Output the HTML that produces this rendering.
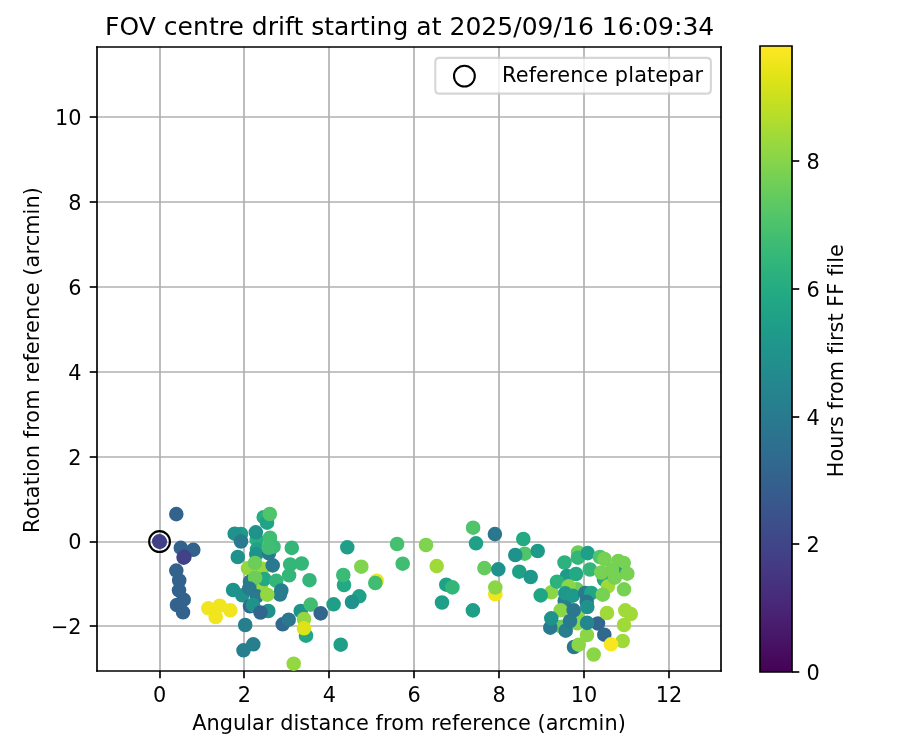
<!DOCTYPE html>
<html><head><meta charset="utf-8"><style>
html,body{margin:0;padding:0;background:#fff;width:900px;height:750px;overflow:hidden}
svg{display:block;will-change:transform}
svg text{font-family:"DejaVu Sans","Liberation Sans",sans-serif;font-variant-ligatures:none;font-feature-settings:"liga" 0,"clig" 0}
</style></head><body>
<svg width="900" height="750" viewBox="0 0 432 360" version="1.1">
 
 <defs>
  <style type="text/css">*{stroke-linejoin: round; stroke-linecap: butt}</style>
 </defs>
 <g id="figure_1">
  <g id="patch_1">
   <path d="M 0 360 
L 432 360 
L 432 0 
L 0 0 
z
" style="fill: #ffffff"/>
  </g>
  <g id="axes_1">
   <g id="patch_2">
    <path d="M 46.56 322.08 
L 346.08 322.08 
L 346.08 22.56 
L 46.56 22.56 
z
" style="fill: #ffffff"/>
   </g>
   <g id="matplotlib.axis_1">
    <g id="xtick_1">
     <g id="line2d_1">
      <path d="M 76.8000 322.08 
L 76.8000 22.56 
" clip-path="url(#pa88c862650)" style="fill: none; stroke: #b0b0b0; stroke-width: 0.8; stroke-linecap: square"/>
     </g>
     <g id="line2d_2">
      <defs>
       <path id="m1504cfccaf" d="M 0 0 
L 0 3.5 
" style="stroke: #000000; stroke-width: 0.8"/>
      </defs>
      <g>
       <use href="#m1504cfccaf" x="76.8000" y="322.08" style="stroke: #000000; stroke-width: 0.8"/>
      </g>
     </g>
     <g id="text_1">
      <text style="font-size: 10px; font-family: 'DejaVu Sans', 'Bitstream Vera Sans', 'Computer Modern Sans Serif', 'Lucida Grande', 'Verdana', 'Geneva', 'Lucid', 'Arial', 'Helvetica', 'Avant Garde', sans-serif; text-anchor: middle" x="76.5840" y="337.1584" transform="rotate(-0 76.5840 337.1584)">0</text>
     </g>
    </g>
    <g id="xtick_2">
     <g id="line2d_3">
      <path d="M 117.1200 322.08 
L 117.1200 22.56 
" clip-path="url(#pa88c862650)" style="fill: none; stroke: #b0b0b0; stroke-width: 0.8; stroke-linecap: square"/>
     </g>
     <g id="line2d_4">
      <g>
       <use href="#m1504cfccaf" x="117.1200" y="322.08" style="stroke: #000000; stroke-width: 0.8"/>
      </g>
     </g>
     <g id="text_2">
      <text style="font-size: 10px; font-family: 'DejaVu Sans', 'Bitstream Vera Sans', 'Computer Modern Sans Serif', 'Lucida Grande', 'Verdana', 'Geneva', 'Lucid', 'Arial', 'Helvetica', 'Avant Garde', sans-serif; text-anchor: middle" x="117.3360" y="337.1584" transform="rotate(-0 117.3360 337.1584)">2</text>
     </g>
    </g>
    <g id="xtick_3">
     <g id="line2d_5">
      <path d="M 157.9200 322.08 
L 157.9200 22.56 
" clip-path="url(#pa88c862650)" style="fill: none; stroke: #b0b0b0; stroke-width: 0.8; stroke-linecap: square"/>
     </g>
     <g id="line2d_6">
      <g>
       <use href="#m1504cfccaf" x="157.9200" y="322.08" style="stroke: #000000; stroke-width: 0.8"/>
      </g>
     </g>
     <g id="text_3">
      <text style="font-size: 10px; font-family: 'DejaVu Sans', 'Bitstream Vera Sans', 'Computer Modern Sans Serif', 'Lucida Grande', 'Verdana', 'Geneva', 'Lucid', 'Arial', 'Helvetica', 'Avant Garde', sans-serif; text-anchor: middle" x="158.0880" y="337.1584" transform="rotate(-0 158.0880 337.1584)">4</text>
     </g>
    </g>
    <g id="xtick_4">
     <g id="line2d_7">
      <path d="M 198.7200 322.08 
L 198.7200 22.56 
" clip-path="url(#pa88c862650)" style="fill: none; stroke: #b0b0b0; stroke-width: 0.8; stroke-linecap: square"/>
     </g>
     <g id="line2d_8">
      <g>
       <use href="#m1504cfccaf" x="198.7200" y="322.08" style="stroke: #000000; stroke-width: 0.8"/>
      </g>
     </g>
     <g id="text_4">
      <text style="font-size: 10px; font-family: 'DejaVu Sans', 'Bitstream Vera Sans', 'Computer Modern Sans Serif', 'Lucida Grande', 'Verdana', 'Geneva', 'Lucid', 'Arial', 'Helvetica', 'Avant Garde', sans-serif; text-anchor: middle" x="198.8400" y="337.1584" transform="rotate(-0 198.8400 337.1584)">6</text>
     </g>
    </g>
    <g id="xtick_5">
     <g id="line2d_9">
      <path d="M 239.5200 322.08 
L 239.5200 22.56 
" clip-path="url(#pa88c862650)" style="fill: none; stroke: #b0b0b0; stroke-width: 0.8; stroke-linecap: square"/>
     </g>
     <g id="line2d_10">
      <g>
       <use href="#m1504cfccaf" x="239.5200" y="322.08" style="stroke: #000000; stroke-width: 0.8"/>
      </g>
     </g>
     <g id="text_5">
      <text style="font-size: 10px; font-family: 'DejaVu Sans', 'Bitstream Vera Sans', 'Computer Modern Sans Serif', 'Lucida Grande', 'Verdana', 'Geneva', 'Lucid', 'Arial', 'Helvetica', 'Avant Garde', sans-serif; text-anchor: middle" x="239.5920" y="337.1584" transform="rotate(-0 239.5920 337.1584)">8</text>
     </g>
    </g>
    <g id="xtick_6">
     <g id="line2d_11">
      <path d="M 280.3200 322.08 
L 280.3200 22.56 
" clip-path="url(#pa88c862650)" style="fill: none; stroke: #b0b0b0; stroke-width: 0.8; stroke-linecap: square"/>
     </g>
     <g id="line2d_12">
      <g>
       <use href="#m1504cfccaf" x="280.3200" y="322.08" style="stroke: #000000; stroke-width: 0.8"/>
      </g>
     </g>
     <g id="text_6">
      <text style="font-size: 10px; font-family: 'DejaVu Sans', 'Bitstream Vera Sans', 'Computer Modern Sans Serif', 'Lucida Grande', 'Verdana', 'Geneva', 'Lucid', 'Arial', 'Helvetica', 'Avant Garde', sans-serif; text-anchor: middle" x="280.3440" y="337.1584" transform="rotate(-0 280.3440 337.1584)">10</text>
     </g>
    </g>
    <g id="xtick_7">
     <g id="line2d_13">
      <path d="M 321.1200 322.08 
L 321.1200 22.56 
" clip-path="url(#pa88c862650)" style="fill: none; stroke: #b0b0b0; stroke-width: 0.8; stroke-linecap: square"/>
     </g>
     <g id="line2d_14">
      <g>
       <use href="#m1504cfccaf" x="321.1200" y="322.08" style="stroke: #000000; stroke-width: 0.8"/>
      </g>
     </g>
     <g id="text_7">
      <text style="font-size: 10px; font-family: 'DejaVu Sans', 'Bitstream Vera Sans', 'Computer Modern Sans Serif', 'Lucida Grande', 'Verdana', 'Geneva', 'Lucid', 'Arial', 'Helvetica', 'Avant Garde', sans-serif; text-anchor: middle" x="321.0960" y="337.1584" transform="rotate(-0 321.0960 337.1584)">12</text>
     </g>
    </g>
    <g id="text_8">
     <text style="font-size: 10px; font-family: 'DejaVu Sans', 'Bitstream Vera Sans', 'Computer Modern Sans Serif', 'Lucida Grande', 'Verdana', 'Geneva', 'Lucid', 'Arial', 'Helvetica', 'Avant Garde', sans-serif; text-anchor: middle" x="196.3200" y="350.3566" transform="rotate(-0 196.3200 350.3566)" textLength="208.160" lengthAdjust="spacing">Angular distance from reference (arcmin)</text>
    </g>
   </g>
   <g id="matplotlib.axis_2">
    <g id="ytick_1">
     <g id="line2d_15">
      <path d="M 46.56 300.4800 
L 346.08 300.4800 
" clip-path="url(#pa88c862650)" style="fill: none; stroke: #b0b0b0; stroke-width: 0.8; stroke-linecap: square"/>
     </g>
     <g id="line2d_16">
      <defs>
       <path id="m5d545ce8f8" d="M 0 0 
L -3.5 0 
" style="stroke: #000000; stroke-width: 0.8"/>
      </defs>
      <g>
       <use href="#m5d545ce8f8" x="46.56" y="300.4800" style="stroke: #000000; stroke-width: 0.8"/>
      </g>
     </g>
     <g id="text_9">
      <text style="font-size: 10px; font-family: 'DejaVu Sans', 'Bitstream Vera Sans', 'Computer Modern Sans Serif', 'Lucida Grande', 'Verdana', 'Geneva', 'Lucid', 'Arial', 'Helvetica', 'Avant Garde', sans-serif; text-anchor: end" x="39.1760" y="304.4952" transform="rotate(-0 39.1760 304.4952)">−2</text>
     </g>
    </g>
    <g id="ytick_2">
     <g id="line2d_17">
      <path d="M 46.56 260.1600 
L 346.08 260.1600 
" clip-path="url(#pa88c862650)" style="fill: none; stroke: #b0b0b0; stroke-width: 0.8; stroke-linecap: square"/>
     </g>
     <g id="line2d_18">
      <g>
       <use href="#m5d545ce8f8" x="46.56" y="260.1600" style="stroke: #000000; stroke-width: 0.8"/>
      </g>
     </g>
     <g id="text_10">
      <text style="font-size: 10px; font-family: 'DejaVu Sans', 'Bitstream Vera Sans', 'Computer Modern Sans Serif', 'Lucida Grande', 'Verdana', 'Geneva', 'Lucid', 'Arial', 'Helvetica', 'Avant Garde', sans-serif; text-anchor: end" x="39.1760" y="263.7432" transform="rotate(-0 39.1760 263.7432)">0</text>
     </g>
    </g>
    <g id="ytick_3">
     <g id="line2d_19">
      <path d="M 46.56 219.3600 
L 346.08 219.3600 
" clip-path="url(#pa88c862650)" style="fill: none; stroke: #b0b0b0; stroke-width: 0.8; stroke-linecap: square"/>
     </g>
     <g id="line2d_20">
      <g>
       <use href="#m5d545ce8f8" x="46.56" y="219.3600" style="stroke: #000000; stroke-width: 0.8"/>
      </g>
     </g>
     <g id="text_11">
      <text style="font-size: 10px; font-family: 'DejaVu Sans', 'Bitstream Vera Sans', 'Computer Modern Sans Serif', 'Lucida Grande', 'Verdana', 'Geneva', 'Lucid', 'Arial', 'Helvetica', 'Avant Garde', sans-serif; text-anchor: end" x="39.1760" y="222.9912" transform="rotate(-0 39.1760 222.9912)">2</text>
     </g>
    </g>
    <g id="ytick_4">
     <g id="line2d_21">
      <path d="M 46.56 178.5600 
L 346.08 178.5600 
" clip-path="url(#pa88c862650)" style="fill: none; stroke: #b0b0b0; stroke-width: 0.8; stroke-linecap: square"/>
     </g>
     <g id="line2d_22">
      <g>
       <use href="#m5d545ce8f8" x="46.56" y="178.5600" style="stroke: #000000; stroke-width: 0.8"/>
      </g>
     </g>
     <g id="text_12">
      <text style="font-size: 10px; font-family: 'DejaVu Sans', 'Bitstream Vera Sans', 'Computer Modern Sans Serif', 'Lucida Grande', 'Verdana', 'Geneva', 'Lucid', 'Arial', 'Helvetica', 'Avant Garde', sans-serif; text-anchor: end" x="39.1760" y="182.2392" transform="rotate(-0 39.1760 182.2392)">4</text>
     </g>
    </g>
    <g id="ytick_5">
     <g id="line2d_23">
      <path d="M 46.56 137.7600 
L 346.08 137.7600 
" clip-path="url(#pa88c862650)" style="fill: none; stroke: #b0b0b0; stroke-width: 0.8; stroke-linecap: square"/>
     </g>
     <g id="line2d_24">
      <g>
       <use href="#m5d545ce8f8" x="46.56" y="137.7600" style="stroke: #000000; stroke-width: 0.8"/>
      </g>
     </g>
     <g id="text_13">
      <text style="font-size: 10px; font-family: 'DejaVu Sans', 'Bitstream Vera Sans', 'Computer Modern Sans Serif', 'Lucida Grande', 'Verdana', 'Geneva', 'Lucid', 'Arial', 'Helvetica', 'Avant Garde', sans-serif; text-anchor: end" x="39.1760" y="141.4872" transform="rotate(-0 39.1760 141.4872)">6</text>
     </g>
    </g>
    <g id="ytick_6">
     <g id="line2d_25">
      <path d="M 46.56 96.9600 
L 346.08 96.9600 
" clip-path="url(#pa88c862650)" style="fill: none; stroke: #b0b0b0; stroke-width: 0.8; stroke-linecap: square"/>
     </g>
     <g id="line2d_26">
      <g>
       <use href="#m5d545ce8f8" x="46.56" y="96.9600" style="stroke: #000000; stroke-width: 0.8"/>
      </g>
     </g>
     <g id="text_14">
      <text style="font-size: 10px; font-family: 'DejaVu Sans', 'Bitstream Vera Sans', 'Computer Modern Sans Serif', 'Lucida Grande', 'Verdana', 'Geneva', 'Lucid', 'Arial', 'Helvetica', 'Avant Garde', sans-serif; text-anchor: end" x="39.1760" y="100.7352" transform="rotate(-0 39.1760 100.7352)">8</text>
     </g>
    </g>
    <g id="ytick_7">
     <g id="line2d_27">
      <path d="M 46.56 56.1600 
L 346.08 56.1600 
" clip-path="url(#pa88c862650)" style="fill: none; stroke: #b0b0b0; stroke-width: 0.8; stroke-linecap: square"/>
     </g>
     <g id="line2d_28">
      <g>
       <use href="#m5d545ce8f8" x="46.56" y="56.1600" style="stroke: #000000; stroke-width: 0.8"/>
      </g>
     </g>
     <g id="text_15">
      <text style="font-size: 10px; font-family: 'DejaVu Sans', 'Bitstream Vera Sans', 'Computer Modern Sans Serif', 'Lucida Grande', 'Verdana', 'Geneva', 'Lucid', 'Arial', 'Helvetica', 'Avant Garde', sans-serif; text-anchor: end" x="39.1760" y="59.9832" transform="rotate(-0 39.1760 59.9832)">10</text>
     </g>
    </g>
    <g id="text_16">
     <text style="font-size: 10px; font-family: 'DejaVu Sans', 'Bitstream Vera Sans', 'Computer Modern Sans Serif', 'Lucida Grande', 'Verdana', 'Geneva', 'Lucid', 'Arial', 'Helvetica', 'Avant Garde', sans-serif; text-anchor: middle" x="18.7381" y="172.8000" transform="rotate(-90 18.7381 172.8000)" textLength="166.000" lengthAdjust="spacing">Rotation from reference (arcmin)</text>
    </g>
   </g>
   <g id="patch_3">
    <path d="M 46.56 322.08 
L 46.56 22.56 
" style="fill: none; stroke: #000000; stroke-width: 0.8; stroke-linejoin: miter; stroke-linecap: square"/>
   </g>
   <g id="patch_4">
    <path d="M 346.08 322.08 
L 346.08 22.56 
" style="fill: none; stroke: #000000; stroke-width: 0.8; stroke-linejoin: miter; stroke-linecap: square"/>
   </g>
   <g id="patch_5">
    <path d="M 46.56 322.08 
L 346.08 322.08 
" style="fill: none; stroke: #000000; stroke-width: 0.8; stroke-linejoin: miter; stroke-linecap: square"/>
   </g>
   <g id="patch_6">
    <path d="M 46.56 22.56 
L 346.08 22.56 
" style="fill: none; stroke: #000000; stroke-width: 0.8; stroke-linejoin: miter; stroke-linecap: square"/>
   </g>
   <g id="PathCollection_1">
    <defs>
     <path id="C0_0_623b9ded61" d="M 0 3 
C 0.795609 3 1.55874 2.683901 2.12132 2.12132 
C 2.683901 1.55874 3 0.795609 3 -0 
C 3 -0.795609 2.683901 -1.55874 2.12132 -2.12132 
C 1.55874 -2.683901 0.795609 -3 0 -3 
C -0.795609 -3 -1.55874 -2.683901 -2.12132 -2.12132 
C -2.683901 -1.55874 -3 -0.795609 -3 0 
C -3 0.795609 -2.683901 1.55874 -2.12132 2.12132 
C -1.55874 2.683901 -0.795609 3 0 3 
z
"/>
    </defs>
    <g clip-path="url(#pa88c862650)">
     <use href="#C0_0_623b9ded61" x="84.624" y="246.768" style="fill: #33638d; stroke: #33638d"/>
    </g>
    <g clip-path="url(#pa88c862650)">
     <use href="#C0_0_623b9ded61" x="86.784" y="262.944" style="fill: #33638d; stroke: #33638d"/>
    </g>
    <g clip-path="url(#pa88c862650)">
     <use href="#C0_0_623b9ded61" x="92.784" y="263.904" style="fill: #33638d; stroke: #33638d"/>
    </g>
    <g clip-path="url(#pa88c862650)">
     <use href="#C0_0_623b9ded61" x="88.128" y="267.648" style="fill: #414287; stroke: #414287"/>
    </g>
    <g clip-path="url(#pa88c862650)">
     <use href="#C0_0_623b9ded61" x="88.512" y="267.312" style="fill: #414287; stroke: #414287"/>
    </g>
    <g clip-path="url(#pa88c862650)">
     <use href="#C0_0_623b9ded61" x="76.464" y="259.824" style="fill: #424086; stroke: #424086"/>
    </g>
    <g clip-path="url(#pa88c862650)">
     <use href="#C0_0_623b9ded61" x="76.704" y="260.064" style="fill: #424086; stroke: #424086"/>
    </g>
    <g clip-path="url(#pa88c862650)">
     <use href="#C0_0_623b9ded61" x="84.624" y="273.888" style="fill: #33638d; stroke: #33638d"/>
    </g>
    <g clip-path="url(#pa88c862650)">
     <use href="#C0_0_623b9ded61" x="86.016" y="278.64" style="fill: #33638d; stroke: #33638d"/>
    </g>
    <g clip-path="url(#pa88c862650)">
     <use href="#C0_0_623b9ded61" x="85.92" y="283.344" style="fill: #33638d; stroke: #33638d"/>
    </g>
    <g clip-path="url(#pa88c862650)">
     <use href="#C0_0_623b9ded61" x="88.176" y="287.856" style="fill: #33638d; stroke: #33638d"/>
    </g>
    <g clip-path="url(#pa88c862650)">
     <use href="#C0_0_623b9ded61" x="84.96" y="290.4" style="fill: #33638d; stroke: #33638d"/>
    </g>
    <g clip-path="url(#pa88c862650)">
     <use href="#C0_0_623b9ded61" x="87.84" y="293.904" style="fill: #33638d; stroke: #33638d"/>
    </g>
    <g clip-path="url(#pa88c862650)">
     <use href="#C0_0_623b9ded61" x="99.984" y="291.984" style="fill: #f1e51d; stroke: #f1e51d"/>
    </g>
    <g clip-path="url(#pa88c862650)">
     <use href="#C0_0_623b9ded61" x="105.456" y="290.736" style="fill: #f1e51d; stroke: #f1e51d"/>
    </g>
    <g clip-path="url(#pa88c862650)">
     <use href="#C0_0_623b9ded61" x="110.544" y="292.944" style="fill: #f1e51d; stroke: #f1e51d"/>
    </g>
    <g clip-path="url(#pa88c862650)">
     <use href="#C0_0_623b9ded61" x="103.536" y="296.16" style="fill: #f1e51d; stroke: #f1e51d"/>
    </g>
    <g clip-path="url(#pa88c862650)">
     <use href="#C0_0_623b9ded61" x="115.68" y="256.32" style="fill: #1e9c89; stroke: #1e9c89"/>
    </g>
    <g clip-path="url(#pa88c862650)">
     <use href="#C0_0_623b9ded61" x="112.656" y="256.176" style="fill: #20928c; stroke: #20928c"/>
    </g>
    <g clip-path="url(#pa88c862650)">
     <use href="#C0_0_623b9ded61" x="115.68" y="259.92" style="fill: #297a8e; stroke: #297a8e"/>
    </g>
    <g clip-path="url(#pa88c862650)">
     <use href="#C0_0_623b9ded61" x="114.144" y="267.36" style="fill: #20928c; stroke: #20928c"/>
    </g>
    <g clip-path="url(#pa88c862650)">
     <use href="#C0_0_623b9ded61" x="111.888" y="283.2" style="fill: #20928c; stroke: #20928c"/>
    </g>
    <g clip-path="url(#pa88c862650)">
     <use href="#C0_0_623b9ded61" x="116.304" y="285.744" style="fill: #20928c; stroke: #20928c"/>
    </g>
    <g clip-path="url(#pa88c862650)">
     <use href="#C0_0_623b9ded61" x="117.696" y="300" style="fill: #277f8e; stroke: #277f8e"/>
    </g>
    <g clip-path="url(#pa88c862650)">
     <use href="#C0_0_623b9ded61" x="121.584" y="309.264" style="fill: #277f8e; stroke: #277f8e"/>
    </g>
    <g clip-path="url(#pa88c862650)">
     <use href="#C0_0_623b9ded61" x="116.88" y="312.144" style="fill: #277f8e; stroke: #277f8e"/>
    </g>
    <g clip-path="url(#pa88c862650)">
     <use href="#C0_0_623b9ded61" x="126.576" y="248.256" style="fill: #27ad81; stroke: #27ad81"/>
    </g>
    <g clip-path="url(#pa88c862650)">
     <use href="#C0_0_623b9ded61" x="128.16" y="250.896" style="fill: #20a386; stroke: #20a386"/>
    </g>
    <g clip-path="url(#pa88c862650)">
     <use href="#C0_0_623b9ded61" x="129.504" y="246.72" style="fill: #50c46a; stroke: #50c46a"/>
    </g>
    <g clip-path="url(#pa88c862650)">
     <use href="#C0_0_623b9ded61" x="123.216" y="259.056" style="fill: #29af7f; stroke: #29af7f"/>
    </g>
    <g clip-path="url(#pa88c862650)">
     <use href="#C0_0_623b9ded61" x="122.784" y="255.504" style="fill: #20928c; stroke: #20928c"/>
    </g>
    <g clip-path="url(#pa88c862650)">
     <use href="#C0_0_623b9ded61" x="123.36" y="263.664" style="fill: #20a386; stroke: #20a386"/>
    </g>
    <g clip-path="url(#pa88c862650)">
     <use href="#C0_0_623b9ded61" x="123.024" y="266.064" style="fill: #20928c; stroke: #20928c"/>
    </g>
    <g clip-path="url(#pa88c862650)">
     <use href="#C0_0_623b9ded61" x="129.072" y="265.584" style="fill: #297a8e; stroke: #297a8e"/>
    </g>
    <g clip-path="url(#pa88c862650)">
     <use href="#C0_0_623b9ded61" x="129.6" y="258.096" style="fill: #40bd72; stroke: #40bd72"/>
    </g>
    <g clip-path="url(#pa88c862650)">
     <use href="#C0_0_623b9ded61" x="131.28" y="262.416" style="fill: #3bbb75; stroke: #3bbb75"/>
    </g>
    <g clip-path="url(#pa88c862650)">
     <use href="#C0_0_623b9ded61" x="128.928" y="262.944" style="fill: #40bd72; stroke: #40bd72"/>
    </g>
    <g clip-path="url(#pa88c862650)">
     <use href="#C0_0_623b9ded61" x="140.064" y="262.992" style="fill: #34b679; stroke: #34b679"/>
    </g>
    <g clip-path="url(#pa88c862650)">
     <use href="#C0_0_623b9ded61" x="125.28" y="281.76" style="fill: #93d741; stroke: #93d741"/>
    </g>
    <g clip-path="url(#pa88c862650)">
     <use href="#C0_0_623b9ded61" x="125.904" y="272.976" style="fill: #98d83e; stroke: #98d83e"/>
    </g>
    <g clip-path="url(#pa88c862650)">
     <use href="#C0_0_623b9ded61" x="119.04" y="272.784" style="fill: #93d741; stroke: #93d741"/>
    </g>
    <g clip-path="url(#pa88c862650)">
     <use href="#C0_0_623b9ded61" x="122.4" y="270.24" style="fill: #6ccd5a; stroke: #6ccd5a"/>
    </g>
    <g clip-path="url(#pa88c862650)">
     <use href="#C0_0_623b9ded61" x="130.896" y="271.392" style="fill: #297a8e; stroke: #297a8e"/>
    </g>
    <g clip-path="url(#pa88c862650)">
     <use href="#C0_0_623b9ded61" x="144.816" y="270.48" style="fill: #34b679; stroke: #34b679"/>
    </g>
    <g clip-path="url(#pa88c862650)">
     <use href="#C0_0_623b9ded61" x="139.296" y="270.96" style="fill: #34b679; stroke: #34b679"/>
    </g>
    <g clip-path="url(#pa88c862650)">
     <use href="#C0_0_623b9ded61" x="120" y="279.216" style="fill: #297a8e; stroke: #297a8e"/>
    </g>
    <g clip-path="url(#pa88c862650)">
     <use href="#C0_0_623b9ded61" x="126.864" y="277.92" style="fill: #23a983; stroke: #23a983"/>
    </g>
    <g clip-path="url(#pa88c862650)">
     <use href="#C0_0_623b9ded61" x="122.448" y="277.296" style="fill: #6ccd5a; stroke: #6ccd5a"/>
    </g>
    <g clip-path="url(#pa88c862650)">
     <use href="#C0_0_623b9ded61" x="132.624" y="278.784" style="fill: #34b679; stroke: #34b679"/>
    </g>
    <g clip-path="url(#pa88c862650)">
     <use href="#C0_0_623b9ded61" x="138.768" y="276.144" style="fill: #34b679; stroke: #34b679"/>
    </g>
    <g clip-path="url(#pa88c862650)">
     <use href="#C0_0_623b9ded61" x="148.56" y="278.496" style="fill: #34b679; stroke: #34b679"/>
    </g>
    <g clip-path="url(#pa88c862650)">
     <use href="#C0_0_623b9ded61" x="119.664" y="282.48" style="fill: #297a8e; stroke: #297a8e"/>
    </g>
    <g clip-path="url(#pa88c862650)">
     <use href="#C0_0_623b9ded61" x="123.216" y="286.224" style="fill: #297a8e; stroke: #297a8e"/>
    </g>
    <g clip-path="url(#pa88c862650)">
     <use href="#C0_0_623b9ded61" x="134.4" y="285.36" style="fill: #287d8e; stroke: #287d8e"/>
    </g>
    <g clip-path="url(#pa88c862650)">
     <use href="#C0_0_623b9ded61" x="135.024" y="283.44" style="fill: #287d8e; stroke: #287d8e"/>
    </g>
    <g clip-path="url(#pa88c862650)">
     <use href="#C0_0_623b9ded61" x="128.304" y="285.456" style="fill: #93d741; stroke: #93d741"/>
    </g>
    <g clip-path="url(#pa88c862650)">
     <use href="#C0_0_623b9ded61" x="120" y="291.024" style="fill: #30698e; stroke: #30698e"/>
    </g>
    <g clip-path="url(#pa88c862650)">
     <use href="#C0_0_623b9ded61" x="121.44" y="290.4" style="fill: #20928c; stroke: #20928c"/>
    </g>
    <g clip-path="url(#pa88c862650)">
     <use href="#C0_0_623b9ded61" x="128.784" y="293.28" style="fill: #20928c; stroke: #20928c"/>
    </g>
    <g clip-path="url(#pa88c862650)">
     <use href="#C0_0_623b9ded61" x="125.04" y="294" style="fill: #31668e; stroke: #31668e"/>
    </g>
    <g clip-path="url(#pa88c862650)">
     <use href="#C0_0_623b9ded61" x="144.336" y="293.28" style="fill: #20928c; stroke: #20928c"/>
    </g>
    <g clip-path="url(#pa88c862650)">
     <use href="#C0_0_623b9ded61" x="149.136" y="290.208" style="fill: #40bd72; stroke: #40bd72"/>
    </g>
    <g clip-path="url(#pa88c862650)">
     <use href="#C0_0_623b9ded61" x="153.936" y="294.432" style="fill: #31668e; stroke: #31668e"/>
    </g>
    <g clip-path="url(#pa88c862650)">
     <use href="#C0_0_623b9ded61" x="135.696" y="299.664" style="fill: #30698e; stroke: #30698e"/>
    </g>
    <g clip-path="url(#pa88c862650)">
     <use href="#C0_0_623b9ded61" x="138.576" y="297.456" style="fill: #2a778e; stroke: #2a778e"/>
    </g>
    <g clip-path="url(#pa88c862650)">
     <use href="#C0_0_623b9ded61" x="146.88" y="305.136" style="fill: #21a685; stroke: #21a685"/>
    </g>
    <g clip-path="url(#pa88c862650)">
     <use href="#C0_0_623b9ded61" x="145.92" y="297.12" style="fill: #93d741; stroke: #93d741"/>
    </g>
    <g clip-path="url(#pa88c862650)">
     <use href="#C0_0_623b9ded61" x="145.92" y="301.584" style="fill: #dde318; stroke: #dde318"/>
    </g>
    <g clip-path="url(#pa88c862650)">
     <use href="#C0_0_623b9ded61" x="160.128" y="290.064" style="fill: #1f9f88; stroke: #1f9f88"/>
    </g>
    <g clip-path="url(#pa88c862650)">
     <use href="#C0_0_623b9ded61" x="140.976" y="318.576" style="fill: #93d741; stroke: #93d741"/>
    </g>
    <g clip-path="url(#pa88c862650)">
     <use href="#C0_0_623b9ded61" x="166.704" y="262.704" style="fill: #1f9f88; stroke: #1f9f88"/>
    </g>
    <g clip-path="url(#pa88c862650)">
     <use href="#C0_0_623b9ded61" x="190.608" y="261.12" style="fill: #46c06f; stroke: #46c06f"/>
    </g>
    <g clip-path="url(#pa88c862650)">
     <use href="#C0_0_623b9ded61" x="193.296" y="270.576" style="fill: #40bd72; stroke: #40bd72"/>
    </g>
    <g clip-path="url(#pa88c862650)">
     <use href="#C0_0_623b9ded61" x="173.424" y="272.016" style="fill: #7fd34e; stroke: #7fd34e"/>
    </g>
    <g clip-path="url(#pa88c862650)">
     <use href="#C0_0_623b9ded61" x="165.12" y="280.8" style="fill: #23a983; stroke: #23a983"/>
    </g>
    <g clip-path="url(#pa88c862650)">
     <use href="#C0_0_623b9ded61" x="164.784" y="276" style="fill: #3bbb75; stroke: #3bbb75"/>
    </g>
    <g clip-path="url(#pa88c862650)">
     <use href="#C0_0_623b9ded61" x="180.816" y="278.736" style="fill: #ece51b; stroke: #ece51b"/>
    </g>
    <g clip-path="url(#pa88c862650)">
     <use href="#C0_0_623b9ded61" x="180.144" y="279.84" style="fill: #40bd72; stroke: #40bd72"/>
    </g>
    <g clip-path="url(#pa88c862650)">
     <use href="#C0_0_623b9ded61" x="172.464" y="286.224" style="fill: #1fa187; stroke: #1fa187"/>
    </g>
    <g clip-path="url(#pa88c862650)">
     <use href="#C0_0_623b9ded61" x="168.96" y="288.96" style="fill: #20928c; stroke: #20928c"/>
    </g>
    <g clip-path="url(#pa88c862650)">
     <use href="#C0_0_623b9ded61" x="163.536" y="309.456" style="fill: #1f9f88; stroke: #1f9f88"/>
    </g>
    <g clip-path="url(#pa88c862650)">
     <use href="#C0_0_623b9ded61" x="204.48" y="261.6" style="fill: #7fd34e; stroke: #7fd34e"/>
    </g>
    <g clip-path="url(#pa88c862650)">
     <use href="#C0_0_623b9ded61" x="209.616" y="271.728" style="fill: #a0da39; stroke: #a0da39"/>
    </g>
    <g clip-path="url(#pa88c862650)">
     <use href="#C0_0_623b9ded61" x="227.088" y="253.296" style="fill: #50c46a; stroke: #50c46a"/>
    </g>
    <g clip-path="url(#pa88c862650)">
     <use href="#C0_0_623b9ded61" x="228.48" y="260.784" style="fill: #1fa187; stroke: #1fa187"/>
    </g>
    <g clip-path="url(#pa88c862650)">
     <use href="#C0_0_623b9ded61" x="237.552" y="256.368" style="fill: #2a778e; stroke: #2a778e"/>
    </g>
    <g clip-path="url(#pa88c862650)">
     <use href="#C0_0_623b9ded61" x="232.512" y="272.688" style="fill: #65cb5e; stroke: #65cb5e"/>
    </g>
    <g clip-path="url(#pa88c862650)">
     <use href="#C0_0_623b9ded61" x="239.184" y="273.312" style="fill: #20928c; stroke: #20928c"/>
    </g>
    <g clip-path="url(#pa88c862650)">
     <use href="#C0_0_623b9ded61" x="214.224" y="280.656" style="fill: #1fa187; stroke: #1fa187"/>
    </g>
    <g clip-path="url(#pa88c862650)">
     <use href="#C0_0_623b9ded61" x="217.152" y="281.952" style="fill: #34b679; stroke: #34b679"/>
    </g>
    <g clip-path="url(#pa88c862650)">
     <use href="#C0_0_623b9ded61" x="212.16" y="289.2" style="fill: #1f9f88; stroke: #1f9f88"/>
    </g>
    <g clip-path="url(#pa88c862650)">
     <use href="#C0_0_623b9ded61" x="226.992" y="292.992" style="fill: #1f9f88; stroke: #1f9f88"/>
    </g>
    <g clip-path="url(#pa88c862650)">
     <use href="#C0_0_623b9ded61" x="237.744" y="285.264" style="fill: #f1e51d; stroke: #f1e51d"/>
    </g>
    <g clip-path="url(#pa88c862650)">
     <use href="#C0_0_623b9ded61" x="237.744" y="282" style="fill: #8bd646; stroke: #8bd646"/>
    </g>
    <g clip-path="url(#pa88c862650)">
     <use href="#C0_0_623b9ded61" x="251.856" y="265.776" style="fill: #50c46a; stroke: #50c46a"/>
    </g>
    <g clip-path="url(#pa88c862650)">
     <use href="#C0_0_623b9ded61" x="251.184" y="258.72" style="fill: #23a983; stroke: #23a983"/>
    </g>
    <g clip-path="url(#pa88c862650)">
     <use href="#C0_0_623b9ded61" x="247.344" y="266.4" style="fill: #20928c; stroke: #20928c"/>
    </g>
    <g clip-path="url(#pa88c862650)">
     <use href="#C0_0_623b9ded61" x="258.096" y="264.48" style="fill: #1f9a8a; stroke: #1f9a8a"/>
    </g>
    <g clip-path="url(#pa88c862650)">
     <use href="#C0_0_623b9ded61" x="249.264" y="274.416" style="fill: #1fa187; stroke: #1fa187"/>
    </g>
    <g clip-path="url(#pa88c862650)">
     <use href="#C0_0_623b9ded61" x="254.736" y="276.96" style="fill: #1f978b; stroke: #1f978b"/>
    </g>
    <g clip-path="url(#pa88c862650)">
     <use href="#C0_0_623b9ded61" x="264.624" y="284.304" style="fill: #8bd646; stroke: #8bd646"/>
    </g>
    <g clip-path="url(#pa88c862650)">
     <use href="#C0_0_623b9ded61" x="259.536" y="285.792" style="fill: #21a685; stroke: #21a685"/>
    </g>
    <g clip-path="url(#pa88c862650)">
     <use href="#C0_0_623b9ded61" x="277.488" y="265.2" style="fill: #6ccd5a; stroke: #6ccd5a"/>
    </g>
    <g clip-path="url(#pa88c862650)">
     <use href="#C0_0_623b9ded61" x="277.392" y="267.696" style="fill: #34b679; stroke: #34b679"/>
    </g>
    <g clip-path="url(#pa88c862650)">
     <use href="#C0_0_623b9ded61" x="282.096" y="265.488" style="fill: #1f9f88; stroke: #1f9f88"/>
    </g>
    <g clip-path="url(#pa88c862650)">
     <use href="#C0_0_623b9ded61" x="270.96" y="270" style="fill: #2db27d; stroke: #2db27d"/>
    </g>
    <g clip-path="url(#pa88c862650)">
     <use href="#C0_0_623b9ded61" x="283.152" y="273.36" style="fill: #34b679; stroke: #34b679"/>
    </g>
    <g clip-path="url(#pa88c862650)">
     <use href="#C0_0_623b9ded61" x="272.16" y="276.48" style="fill: #1f9a8a; stroke: #1f9a8a"/>
    </g>
    <g clip-path="url(#pa88c862650)">
     <use href="#C0_0_623b9ded61" x="276.48" y="275.52" style="fill: #23a983; stroke: #23a983"/>
    </g>
    <g clip-path="url(#pa88c862650)">
     <use href="#C0_0_623b9ded61" x="267.36" y="279.216" style="fill: #2db27d; stroke: #2db27d"/>
    </g>
    <g clip-path="url(#pa88c862650)">
     <use href="#C0_0_623b9ded61" x="288" y="267.36" style="fill: #50c46a; stroke: #50c46a"/>
    </g>
    <g clip-path="url(#pa88c862650)">
     <use href="#C0_0_623b9ded61" x="290.16" y="268.32" style="fill: #77d153; stroke: #77d153"/>
    </g>
    <g clip-path="url(#pa88c862650)">
     <use href="#C0_0_623b9ded61" x="296.784" y="269.28" style="fill: #77d153; stroke: #77d153"/>
    </g>
    <g clip-path="url(#pa88c862650)">
     <use href="#C0_0_623b9ded61" x="299.376" y="270.24" style="fill: #77d153; stroke: #77d153"/>
    </g>
    <g clip-path="url(#pa88c862650)">
     <use href="#C0_0_623b9ded61" x="296.016" y="275.376" style="fill: #1f9f88; stroke: #1f9f88"/>
    </g>
    <g clip-path="url(#pa88c862650)">
     <use href="#C0_0_623b9ded61" x="289.92" y="278.16" style="fill: #23a983; stroke: #23a983"/>
    </g>
    <g clip-path="url(#pa88c862650)">
     <use href="#C0_0_623b9ded61" x="291.84" y="281.424" style="fill: #a0da39; stroke: #a0da39"/>
    </g>
    <g clip-path="url(#pa88c862650)">
     <use href="#C0_0_623b9ded61" x="293.76" y="273.456" style="fill: #77d153; stroke: #77d153"/>
    </g>
    <g clip-path="url(#pa88c862650)">
     <use href="#C0_0_623b9ded61" x="288.624" y="274.8" style="fill: #77d153; stroke: #77d153"/>
    </g>
    <g clip-path="url(#pa88c862650)">
     <use href="#C0_0_623b9ded61" x="301.104" y="275.376" style="fill: #77d153; stroke: #77d153"/>
    </g>
    <g clip-path="url(#pa88c862650)">
     <use href="#C0_0_623b9ded61" x="295.056" y="277.296" style="fill: #77d153; stroke: #77d153"/>
    </g>
    <g clip-path="url(#pa88c862650)">
     <use href="#C0_0_623b9ded61" x="276.96" y="282.864" style="fill: #6ccd5a; stroke: #6ccd5a"/>
    </g>
    <g clip-path="url(#pa88c862650)">
     <use href="#C0_0_623b9ded61" x="272.976" y="281.424" style="fill: #8bd646; stroke: #8bd646"/>
    </g>
    <g clip-path="url(#pa88c862650)">
     <use href="#C0_0_623b9ded61" x="271.056" y="288.48" style="fill: #287d8e; stroke: #287d8e"/>
    </g>
    <g clip-path="url(#pa88c862650)">
     <use href="#C0_0_623b9ded61" x="271.344" y="284.784" style="fill: #1f978b; stroke: #1f978b"/>
    </g>
    <g clip-path="url(#pa88c862650)">
     <use href="#C0_0_623b9ded61" x="274.896" y="285.936" style="fill: #1f9a8a; stroke: #1f9a8a"/>
    </g>
    <g clip-path="url(#pa88c862650)">
     <use href="#C0_0_623b9ded61" x="280.944" y="284.64" style="fill: #297a8e; stroke: #297a8e"/>
    </g>
    <g clip-path="url(#pa88c862650)">
     <use href="#C0_0_623b9ded61" x="283.824" y="284.64" style="fill: #21a685; stroke: #21a685"/>
    </g>
    <g clip-path="url(#pa88c862650)">
     <use href="#C0_0_623b9ded61" x="289.344" y="285.456" style="fill: #77d153; stroke: #77d153"/>
    </g>
    <g clip-path="url(#pa88c862650)">
     <use href="#C0_0_623b9ded61" x="299.52" y="282.864" style="fill: #77d153; stroke: #77d153"/>
    </g>
    <g clip-path="url(#pa88c862650)">
     <use href="#C0_0_623b9ded61" x="269.136" y="292.944" style="fill: #8bd646; stroke: #8bd646"/>
    </g>
    <g clip-path="url(#pa88c862650)">
     <use href="#C0_0_623b9ded61" x="277.44" y="296.496" style="fill: #8bd646; stroke: #8bd646"/>
    </g>
    <g clip-path="url(#pa88c862650)">
     <use href="#C0_0_623b9ded61" x="277.104" y="299.184" style="fill: #8bd646; stroke: #8bd646"/>
    </g>
    <g clip-path="url(#pa88c862650)">
     <use href="#C0_0_623b9ded61" x="275.376" y="292.944" style="fill: #2a778e; stroke: #2a778e"/>
    </g>
    <g clip-path="url(#pa88c862650)">
     <use href="#C0_0_623b9ded61" x="281.616" y="288.816" style="fill: #2a778e; stroke: #2a778e"/>
    </g>
    <g clip-path="url(#pa88c862650)">
     <use href="#C0_0_623b9ded61" x="281.904" y="291.36" style="fill: #20928c; stroke: #20928c"/>
    </g>
    <g clip-path="url(#pa88c862650)">
     <use href="#C0_0_623b9ded61" x="269.424" y="300.816" style="fill: #6ccd5a; stroke: #6ccd5a"/>
    </g>
    <g clip-path="url(#pa88c862650)">
     <use href="#C0_0_623b9ded61" x="264.144" y="301.296" style="fill: #297a8e; stroke: #297a8e"/>
    </g>
    <g clip-path="url(#pa88c862650)">
     <use href="#C0_0_623b9ded61" x="264.624" y="296.784" style="fill: #20928c; stroke: #20928c"/>
    </g>
    <g clip-path="url(#pa88c862650)">
     <use href="#C0_0_623b9ded61" x="271.536" y="302.736" style="fill: #287d8e; stroke: #287d8e"/>
    </g>
    <g clip-path="url(#pa88c862650)">
     <use href="#C0_0_623b9ded61" x="273.6" y="298.08" style="fill: #297a8e; stroke: #297a8e"/>
    </g>
    <g clip-path="url(#pa88c862650)">
     <use href="#C0_0_623b9ded61" x="281.76" y="304.8" style="fill: #8bd646; stroke: #8bd646"/>
    </g>
    <g clip-path="url(#pa88c862650)">
     <use href="#C0_0_623b9ded61" x="287.04" y="299.28" style="fill: #31668e; stroke: #31668e"/>
    </g>
    <g clip-path="url(#pa88c862650)">
     <use href="#C0_0_623b9ded61" x="281.808" y="298.992" style="fill: #24868e; stroke: #24868e"/>
    </g>
    <g clip-path="url(#pa88c862650)">
     <use href="#C0_0_623b9ded61" x="290.064" y="304.656" style="fill: #30698e; stroke: #30698e"/>
    </g>
    <g clip-path="url(#pa88c862650)">
     <use href="#C0_0_623b9ded61" x="291.36" y="294.24" style="fill: #a0da39; stroke: #a0da39"/>
    </g>
    <g clip-path="url(#pa88c862650)">
     <use href="#C0_0_623b9ded61" x="300.144" y="292.944" style="fill: #a0da39; stroke: #a0da39"/>
    </g>
    <g clip-path="url(#pa88c862650)">
     <use href="#C0_0_623b9ded61" x="302.736" y="294.72" style="fill: #a0da39; stroke: #a0da39"/>
    </g>
    <g clip-path="url(#pa88c862650)">
     <use href="#C0_0_623b9ded61" x="299.52" y="300" style="fill: #a0da39; stroke: #a0da39"/>
    </g>
    <g clip-path="url(#pa88c862650)">
     <use href="#C0_0_623b9ded61" x="298.896" y="307.68" style="fill: #a0da39; stroke: #a0da39"/>
    </g>
    <g clip-path="url(#pa88c862650)">
     <use href="#C0_0_623b9ded61" x="293.28" y="309.264" style="fill: #f8e621; stroke: #f8e621"/>
    </g>
    <g clip-path="url(#pa88c862650)">
     <use href="#C0_0_623b9ded61" x="275.52" y="310.56" style="fill: #2a778e; stroke: #2a778e"/>
    </g>
    <g clip-path="url(#pa88c862650)">
     <use href="#C0_0_623b9ded61" x="277.776" y="309.456" style="fill: #8bd646; stroke: #8bd646"/>
    </g>
    <g clip-path="url(#pa88c862650)">
     <use href="#C0_0_623b9ded61" x="284.976" y="314.16" style="fill: #8bd646; stroke: #8bd646"/>
    </g>
   </g>
   <g id="text_17">
    <text style="font-size: 12px; font-family: 'DejaVu Sans', 'Bitstream Vera Sans', 'Computer Modern Sans Serif', 'Lucida Grande', 'Verdana', 'Geneva', 'Lucid', 'Arial', 'Helvetica', 'Avant Garde', sans-serif; text-anchor: middle" x="196.6320" y="16.8000" transform="rotate(-0 196.6320 16.8000)" textLength="292.440" lengthAdjust="spacing">FOV centre drift starting at 2025/09/16 16:09:34</text>
   </g>
   <g id="PathCollection_2">
    <path d="M 76.584 264.944 
C 77.910016 264.944 79.181899 264.417168 80.119534 263.479534 
C 81.057168 262.541899 81.584 261.270015 81.584 259.944 
C 81.584 258.617985 81.057168 257.346101 80.119534 256.408466 
C 79.181899 255.470832 77.910016 254.944 76.584 254.944 
C 75.257985 254.944 73.986101 255.470832 73.048466 256.408466 
C 72.110832 257.346101 71.584 258.617985 71.584 259.944 
C 71.584 261.270015 72.110832 262.541899 73.048466 263.479534 
C 73.986101 264.417168 75.257985 264.944 76.584 264.944 
L 76.584 264.944 
z
" clip-path="url(#pa88c862650)" style="fill: none; stroke: #000000"/>
   </g>
   <g id="legend_1">
    <g id="patch_7">
     <path d="M 210.9440 44.9280 L 339.2320 44.9280 Q 341.2320 44.9280 341.2320 42.9280 L 341.2320 29.7920 Q 341.2320 27.7920 339.2320 27.7920 L 210.9440 27.7920 Q 208.9440 27.7920 208.9440 29.7920 L 208.9440 42.9280 Q 208.9440 44.9280 210.9440 44.9280 z" style="fill: #ffffff; opacity: 0.8; stroke: #cccccc; stroke-linejoin: miter"/>
    </g>
    <g id="PathCollection_3" transform="translate(-0.7200 0)">
     <path d="M 223.633125 41.533438 
C 224.95914 41.533438 226.231024 41.006606 227.168659 40.068971 
C 228.106293 39.131337 228.633125 37.859453 228.633125 36.533438 
C 228.633125 35.207422 228.106293 33.935538 227.168659 32.997904 
C 226.231024 32.060269 224.95914 31.533438 223.633125 31.533438 
C 222.307109 31.533438 221.035226 32.060269 220.097591 32.997904 
C 219.159957 33.935538 218.633125 35.207422 218.633125 36.533438 
C 218.633125 37.859453 219.159957 39.131337 220.097591 40.068971 
C 221.035226 41.006606 222.307109 41.533438 223.633125 41.533438 
L 223.633125 41.533438 
z
" style="fill: none; stroke: #000000"/>
    </g>
    <g id="text_18">
     <text style="font-size: 10px; font-family: 'DejaVu Sans', 'Bitstream Vera Sans', 'Computer Modern Sans Serif', 'Lucida Grande', 'Verdana', 'Geneva', 'Lucid', 'Arial', 'Helvetica', 'Avant Garde', sans-serif; text-anchor: start" x="240.9611" y="39.1584" transform="rotate(-0 240.9611 39.1584)" textLength="96.540" lengthAdjust="spacing">Reference platepar</text>
    </g>
   </g>
  </g>
  <g id="axes_2">
   <g id="patch_8">
    <path d="M 364.8 322.56 
L 380.16 322.56 
L 380.16 22.08 
L 364.8 22.08 
z
" style="fill: #ffffff"/>
   </g>
   <defs><linearGradient id="vir" x1="0" y1="0" x2="0" y2="1"><stop offset="0.0000" stop-color="#fde725"/><stop offset="0.0156" stop-color="#f6e620"/><stop offset="0.0312" stop-color="#ece51b"/><stop offset="0.0469" stop-color="#e2e418"/><stop offset="0.0625" stop-color="#d8e219"/><stop offset="0.0781" stop-color="#cde11d"/><stop offset="0.0938" stop-color="#c2df23"/><stop offset="0.1094" stop-color="#b8de29"/><stop offset="0.1250" stop-color="#addc30"/><stop offset="0.1406" stop-color="#a2da37"/><stop offset="0.1562" stop-color="#98d83e"/><stop offset="0.1719" stop-color="#8ed645"/><stop offset="0.1875" stop-color="#84d44b"/><stop offset="0.2031" stop-color="#7ad151"/><stop offset="0.2188" stop-color="#70cf57"/><stop offset="0.2344" stop-color="#67cc5c"/><stop offset="0.2500" stop-color="#5ec962"/><stop offset="0.2656" stop-color="#56c667"/><stop offset="0.2812" stop-color="#4ec36b"/><stop offset="0.2969" stop-color="#46c06f"/><stop offset="0.3125" stop-color="#3fbc73"/><stop offset="0.3281" stop-color="#38b977"/><stop offset="0.3438" stop-color="#32b67a"/><stop offset="0.3594" stop-color="#2db27d"/><stop offset="0.3750" stop-color="#28ae80"/><stop offset="0.3906" stop-color="#25ab82"/><stop offset="0.4062" stop-color="#22a785"/><stop offset="0.4219" stop-color="#20a386"/><stop offset="0.4375" stop-color="#1fa088"/><stop offset="0.4531" stop-color="#1e9c89"/><stop offset="0.4688" stop-color="#1f988b"/><stop offset="0.4844" stop-color="#1f948c"/><stop offset="0.5000" stop-color="#21918c"/><stop offset="0.5156" stop-color="#228d8d"/><stop offset="0.5312" stop-color="#23898e"/><stop offset="0.5469" stop-color="#25858e"/><stop offset="0.5625" stop-color="#26828e"/><stop offset="0.5781" stop-color="#277e8e"/><stop offset="0.5938" stop-color="#297a8e"/><stop offset="0.6094" stop-color="#2a768e"/><stop offset="0.6250" stop-color="#2c728e"/><stop offset="0.6406" stop-color="#2e6f8e"/><stop offset="0.6562" stop-color="#2f6b8e"/><stop offset="0.6719" stop-color="#31678e"/><stop offset="0.6875" stop-color="#33638d"/><stop offset="0.7031" stop-color="#355f8d"/><stop offset="0.7188" stop-color="#375b8d"/><stop offset="0.7344" stop-color="#39568c"/><stop offset="0.7500" stop-color="#3b528b"/><stop offset="0.7656" stop-color="#3d4e8a"/><stop offset="0.7812" stop-color="#3e4989"/><stop offset="0.7969" stop-color="#404588"/><stop offset="0.8125" stop-color="#424086"/><stop offset="0.8281" stop-color="#443b84"/><stop offset="0.8438" stop-color="#453781"/><stop offset="0.8594" stop-color="#46327e"/><stop offset="0.8750" stop-color="#472d7b"/><stop offset="0.8906" stop-color="#482878"/><stop offset="0.9062" stop-color="#482374"/><stop offset="0.9219" stop-color="#481d6f"/><stop offset="0.9375" stop-color="#48186a"/><stop offset="0.9531" stop-color="#471365"/><stop offset="0.9688" stop-color="#470d60"/><stop offset="0.9844" stop-color="#46075a"/><stop offset="1.0000" stop-color="#440154"/></linearGradient></defs><rect x="364.8" y="22.08" width="15.360000000000014" height="300.48" fill="url(#vir)"/>
   <g id="matplotlib.axis_3"/>
   <g id="matplotlib.axis_4">
    <g id="ytick_8">
     <g id="line2d_29">
      <defs>
       <path id="m33c4ce201d" d="M 0 0 
L 3.5 0 
" style="stroke: #000000; stroke-width: 0.8"/>
      </defs>
      <g>
       <use href="#m33c4ce201d" x="380.16" y="322.5600" style="stroke: #000000; stroke-width: 0.8"/>
      </g>
     </g>
     <g id="text_19">
      <text style="font-size: 10px; font-family: 'DejaVu Sans', 'Bitstream Vera Sans', 'Computer Modern Sans Serif', 'Lucida Grande', 'Verdana', 'Geneva', 'Lucid', 'Arial', 'Helvetica', 'Avant Garde', sans-serif; text-anchor: start" x="387.1600" y="326.3592" transform="rotate(-0 387.1600 326.3592)">0</text>
     </g>
    </g>
    <g id="ytick_9">
     <g id="line2d_30">
      <g>
       <use href="#m33c4ce201d" x="380.16" y="261.1200" style="stroke: #000000; stroke-width: 0.8"/>
      </g>
     </g>
     <g id="text_20">
      <text style="font-size: 10px; font-family: 'DejaVu Sans', 'Bitstream Vera Sans', 'Computer Modern Sans Serif', 'Lucida Grande', 'Verdana', 'Geneva', 'Lucid', 'Arial', 'Helvetica', 'Avant Garde', sans-serif; text-anchor: start" x="387.1600" y="265.0680" transform="rotate(-0 387.1600 265.0680)">2</text>
     </g>
    </g>
    <g id="ytick_10">
     <g id="line2d_31">
      <g>
       <use href="#m33c4ce201d" x="380.16" y="200.1600" style="stroke: #000000; stroke-width: 0.8"/>
      </g>
     </g>
     <g id="text_21">
      <text style="font-size: 10px; font-family: 'DejaVu Sans', 'Bitstream Vera Sans', 'Computer Modern Sans Serif', 'Lucida Grande', 'Verdana', 'Geneva', 'Lucid', 'Arial', 'Helvetica', 'Avant Garde', sans-serif; text-anchor: start" x="387.1600" y="203.7769" transform="rotate(-0 387.1600 203.7769)">4</text>
     </g>
    </g>
    <g id="ytick_11">
     <g id="line2d_32">
      <g>
       <use href="#m33c4ce201d" x="380.16" y="138.7200" style="stroke: #000000; stroke-width: 0.8"/>
      </g>
     </g>
     <g id="text_22">
      <text style="font-size: 10px; font-family: 'DejaVu Sans', 'Bitstream Vera Sans', 'Computer Modern Sans Serif', 'Lucida Grande', 'Verdana', 'Geneva', 'Lucid', 'Arial', 'Helvetica', 'Avant Garde', sans-serif; text-anchor: start" x="387.1600" y="142.4857" transform="rotate(-0 387.1600 142.4857)">6</text>
     </g>
    </g>
    <g id="ytick_12">
     <g id="line2d_33">
      <g>
       <use href="#m33c4ce201d" x="380.16" y="77.2800" style="stroke: #000000; stroke-width: 0.8"/>
      </g>
     </g>
     <g id="text_23">
      <text style="font-size: 10px; font-family: 'DejaVu Sans', 'Bitstream Vera Sans', 'Computer Modern Sans Serif', 'Lucida Grande', 'Verdana', 'Geneva', 'Lucid', 'Arial', 'Helvetica', 'Avant Garde', sans-serif; text-anchor: start" x="387.1600" y="81.1945" transform="rotate(-0 387.1600 81.1945)">8</text>
     </g>
    </g>
    <g id="text_24">
     <text style="font-size: 10px; font-family: 'DejaVu Sans', 'Bitstream Vera Sans', 'Computer Modern Sans Serif', 'Lucida Grande', 'Verdana', 'Geneva', 'Lucid', 'Arial', 'Helvetica', 'Avant Garde', sans-serif; text-anchor: middle" x="404.6409" y="173.1360" transform="rotate(-90 404.6409 173.1360)" textLength="111.870" lengthAdjust="spacing">Hours from first FF file</text>
    </g>
   </g>
   <g id="LineCollection_1"/>
   <g id="patch_9">
    <path d="M 364.8 322.56 
L 372.48 322.56 
L 380.16 322.56 
L 380.16 22.08 
L 372.48 22.08 
L 364.8 22.08 
L 364.8 322.56 
z
" style="fill: none; stroke: #000000; stroke-width: 0.8; stroke-linejoin: miter; stroke-linecap: square"/>
   </g>
  </g>
 </g>
 <defs>
  <clipPath id="pa88c862650">
   <rect x="46.56" y="22.56" width="299.52" height="299.52"/>
  </clipPath>
 </defs>
</svg>

</body></html>
